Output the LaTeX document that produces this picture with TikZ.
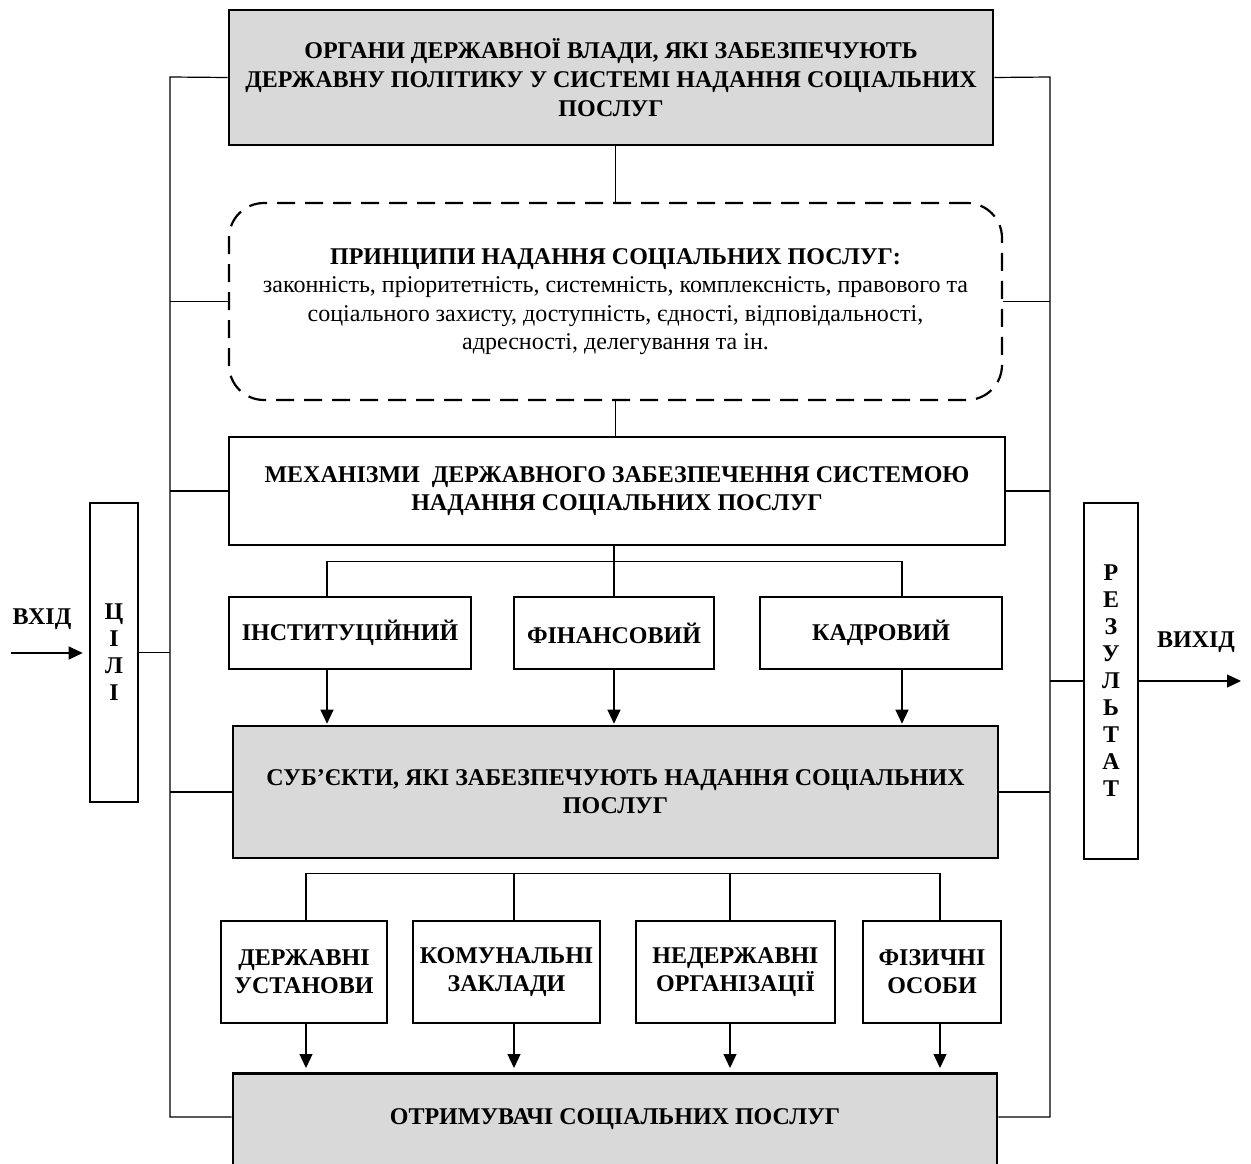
\documentclass[tikz,border=0pt]{standalone}
\usepackage{fontspec}
\setmainfont{Liberation Serif}
\usetikzlibrary{arrows.meta}

\begin{document}
\begin{tikzpicture}[x=1pt,y=-1pt,line width=1.2pt,
  box/.style={draw,line width=2.6pt,align=center,inner sep=0pt,
    font=\bfseries\fontsize{24}{28}\selectfont},
  grbox/.style={box,fill=black!15},
  dbox/.style={draw,line width=2.2pt,dash pattern=on 18pt off 10pt,
    rounded corners=35pt,align=center,inner sep=0pt,
    font=\fontsize{24}{28.5}\selectfont},
  arr/.style={-{Triangle[length=14pt,width=13pt]}}]
\useasboundingbox (0,0) rectangle (1251,1164);

\node[grbox,minimum width=764pt,minimum height=135pt,font=\bfseries\fontsize{24}{29}\selectfont] (O) at (611,77.5)
  {ОРГАНИ ДЕРЖАВНОЇ ВЛАДИ, ЯКІ ЗАБЕЗПЕЧУЮТЬ\\ДЕРЖАВНУ ПОЛІТИКУ У СИСТЕМІ НАДАННЯ СОЦІАЛЬНИХ\\ПОСЛУГ};
\node[dbox,minimum width=773pt,minimum height=197pt] (P) at (615.5,301.5)
  {\textbf{ПРИНЦИПИ НАДАННЯ СОЦІАЛЬНИХ ПОСЛУГ:}\\законність, пріоритетність, системність, комплексність, правового та\\соціального захисту, доступність, єдності, відповідальності,\\адресності, делегування та ін.};
\node[box,minimum width=776pt,minimum height=108pt] (M) at (617,491)
  {МЕХАНІЗМИ\ \ ДЕРЖАВНОГО ЗАБЕЗПЕЧЕННЯ СИСТЕМОЮ\\НАДАННЯ СОЦІАЛЬНИХ ПОСЛУГ};
\node[box,minimum width=242pt,minimum height=72pt] (I) at (350,633) {ІНСТИТУЦІЙНИЙ};
\node[box,minimum width=200pt,minimum height=72pt] (F) at (614,633) {ФІНАНСОВИЙ};
\node[box,minimum width=242pt,minimum height=72pt] (K) at (881,633) {КАДРОВИЙ};
\node[grbox,minimum width=765pt,minimum height=132pt] (S) at (615.5,792)
  {СУБ’ЄКТИ, ЯКІ ЗАБЕЗПЕЧУЮТЬ НАДАННЯ СОЦІАЛЬНИХ\\ПОСЛУГ};
\node[box,minimum width=166pt,minimum height=102pt] (D) at (304,972) {ДЕРЖАВНІ\\УСТАНОВИ};
\node[box,minimum width=187pt,minimum height=102pt] (Ko) at (506.5,972) {КОМУНАЛЬНІ\\ЗАКЛАДИ};
\node[box,minimum width=199pt,minimum height=102pt] (N) at (735.5,972) {НЕДЕРЖАВНІ\\ОРГАНІЗАЦІЇ};
\node[box,minimum width=138pt,minimum height=102pt] (Fi) at (932,972) {ФІЗИЧНІ\\ОСОБИ};
\node[grbox,anchor=north,minimum width=764pt,minimum height=110pt,text height=16pt,text depth=24pt] (Ot) at (615,1072)
  {ОТРИМУВАЧІ СОЦІАЛЬНИХ ПОСЛУГ};
\node[box,minimum width=48pt,minimum height=299pt,font=\bfseries\fontsize{24}{27}\selectfont] (C) at (114,652.5)
  {Ц\\І\\Л\\І};
\node[box,minimum width=54pt,minimum height=356pt,font=\bfseries\fontsize{24}{27}\selectfont] (R) at (1111,681)
  {Р\\Е\\З\\У\\Л\\Ь\\Т\\А\\Т};
\node[font=\bfseries\fontsize{24}{28}\selectfont] (in) at (42,619) {ВХІД};
\node[font=\bfseries\fontsize{24}{28}\selectfont] (out) at (1196,642) {ВИХІД};

% side lines
\coordinate (LT) at (170,77);
\coordinate (LB) at (170,1117);
\coordinate (RT) at (1050,77);
\coordinate (RB) at (1050,1117);
\draw (O.west) -- (LT) -- (LB) -- (LB -| Ot.west);
\draw (O.east) -- (RT) -- (RB) -- (RB -| Ot.east);
\draw (P.west) -- (P.west -| LT);
\draw (M.west) -- (M.west -| LT);
\draw (S.west) -- (S.west -| LT);
\draw (C.east) -- (C.east -| LT);
\draw (P.east) -- (P.east -| RT);
\draw (M.east) -- (M.east -| RT);
\draw (S.east) -- (S.east -| RT);
\draw (R.west) -- (R.west -| RT);

% input and output
\coordinate (A) at (11,653);
\coordinate (B) at (1241,681);
\draw[arr,shorten >=6pt] (A) -- (C.west |- A);
\draw[arr] (R.east) -- (B);

% middle
\draw (O.south -| P.north) -- (P.north);
\draw (P.south) -- (P.south |- M.north);
\draw (M.south -| F.north) -- (F.north);
\draw ([xshift=-23pt]I.north) -- ++(0,-34) -| ([xshift=21pt]K.north);
\draw[arr,shorten >=1pt] ([xshift=-23pt]I.south) -- ([xshift=-23pt]I.south |- S.north);
\draw[arr,shorten >=1pt] (F.south) -- (F.south |- S.north);
\draw[arr,shorten >=1pt] ([xshift=21pt]K.south) -- ([xshift=21pt]K.south |- S.north);

% lower
\draw ([xshift=2pt]D.north) -- ++(0,-46) -| ([xshift=8pt]Fi.north);
\draw ([xshift=7.5pt]Ko.north) -- ++(0,-46);
\draw ([xshift=-5.5pt]N.north) -- ++(0,-46);
\draw[arr,shorten >=4pt] ([xshift=2pt]D.south) -- ([xshift=2pt]D.south |- Ot.north);
\draw[arr,shorten >=4pt] ([xshift=7.5pt]Ko.south) -- ([xshift=7.5pt]Ko.south |- Ot.north);
\draw[arr,shorten >=4pt] ([xshift=-5.5pt]N.south) -- ([xshift=-5.5pt]N.south |- Ot.north);
\draw[arr,shorten >=4pt] ([xshift=8pt]Fi.south) -- ([xshift=8pt]Fi.south |- Ot.north);
\end{tikzpicture}
\end{document}
